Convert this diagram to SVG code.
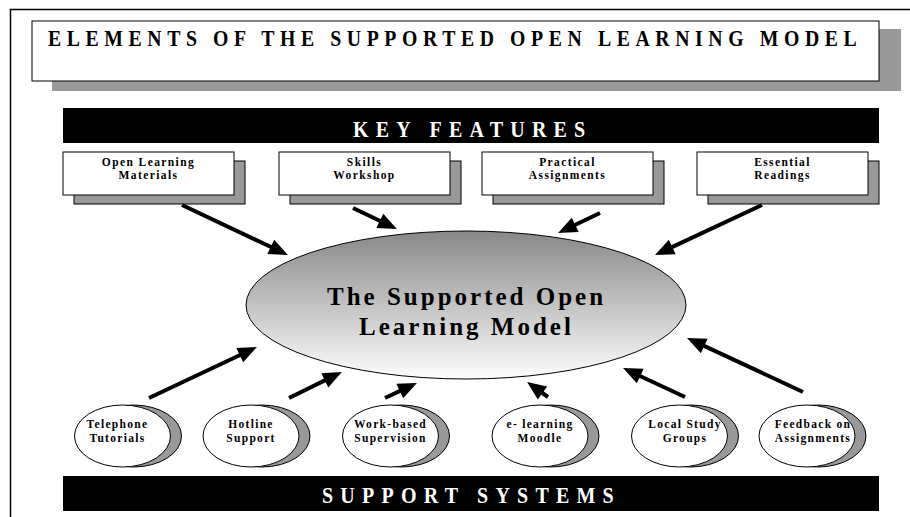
<svg xmlns="http://www.w3.org/2000/svg" width="910" height="517" viewBox="0 0 910 517">
  <style>
    .t { font-family: "Liberation Serif", "Times New Roman", serif; font-weight: bold; fill: #000; }
    .w { fill: #fff; }
    .sh { fill: #999; stroke: #000; stroke-width: 1; }
    .bx { fill: #fff; stroke: #000; stroke-width: 1; }
    .sm { font-size: 11.5px; letter-spacing: 1.4px; text-anchor: middle; }
    .cl { font-size: 11.5px; letter-spacing: 1.3px; text-anchor: middle; }
    .bar { font-size: 23px; letter-spacing: 8.3px; }
    .ar { stroke: #000; stroke-width: 4; fill: none; marker-end: url(#ah); }
  </style>
  <defs>
    <marker id="ah" markerUnits="userSpaceOnUse" markerWidth="19" markerHeight="16" refX="8" refY="8" orient="auto" overflow="visible">
      <path d="M0,0 L19,8 L0,16 Z" fill="#000"/>
    </marker>
    <linearGradient id="eg" x1="0" y1="0" x2="0" y2="1">
      <stop offset="0" stop-color="#888"/>
      <stop offset="1" stop-color="#fdfdfd"/>
    </linearGradient>
  </defs>
  <rect x="0" y="0" width="910" height="517" fill="#fff"/>
  <g id="frame">
    <path d="M10.5,600 L10.5,9.5 L920,9.5" fill="none" stroke="#000" stroke-width="1.5"/>
  </g>
  <g id="title">
    <rect x="52" y="29" width="849" height="62" fill="#999"/>
    <rect x="32" y="21" width="847" height="60" class="bx"/>
    <text transform="translate(48,46) scale(0.86,1)" x="0" y="0" class="t" font-size="23" letter-spacing="6.5">ELEMENTS OF THE SUPPORTED OPEN LEARNING MODEL</text>
  </g>
  <g id="key-features">
    <rect x="63" y="108" width="816" height="35" fill="#000"/>
    <text transform="translate(353,137) scale(0.87,1)" x="0" y="0" class="t w bar">KEY FEATURES</text>
  </g>
  <g id="support-systems">
    <rect x="63" y="476" width="816" height="35" fill="#000"/>
    <text transform="translate(322,503) scale(0.87,1)" x="0" y="0" class="t w bar">SUPPORT SYSTEMS</text>
  </g>
  <g id="feature-open-learning">
    <rect x="74" y="161" width="171" height="43" class="sh"/>
    <rect x="63" y="152" width="171" height="43" class="bx"/>
    <text x="148.5" y="166" class="t sm">Open Learning</text>
    <text x="148.5" y="179" class="t sm">Materials</text>
  </g>
  <g id="feature-skills">
    <rect x="290" y="161" width="171" height="43" class="sh"/>
    <rect x="279" y="152" width="171" height="43" class="bx"/>
    <text x="364.5" y="166" class="t sm">Skills</text>
    <text x="364.5" y="179" class="t sm">Workshop</text>
  </g>
  <g id="feature-practical">
    <rect x="493" y="161" width="171" height="43" class="sh"/>
    <rect x="482" y="152" width="171" height="43" class="bx"/>
    <text x="567.5" y="166" class="t sm">Practical</text>
    <text x="567.5" y="179" class="t sm">Assignments</text>
  </g>
  <g id="feature-readings">
    <rect x="708" y="161" width="171" height="43" class="sh"/>
    <rect x="697" y="152" width="171" height="43" class="bx"/>
    <text x="782.5" y="166" class="t sm">Essential</text>
    <text x="782.5" y="179" class="t sm">Readings</text>
  </g>
  <g id="model">
    <ellipse cx="466" cy="305" rx="220" ry="74" fill="url(#eg)" stroke="#000" stroke-width="1"/>
    <text x="327" y="305" class="t" font-size="25" letter-spacing="3">The Supported Open</text>
    <text x="359" y="335" class="t" font-size="25" letter-spacing="3">Learning Model</text>
  </g>
  <g id="support-telephone">
    <ellipse cx="133.5" cy="436" rx="48" ry="31" class="sh"/>
    <ellipse cx="122.5" cy="436" rx="48" ry="31" class="bx"/>
    <text x="117.5" y="428" class="t cl">Telephone</text>
    <text x="117.5" y="442" class="t cl">Tutorials</text>
  </g>
  <g id="support-hotline">
    <ellipse cx="262" cy="436" rx="48" ry="31" class="sh"/>
    <ellipse cx="251" cy="436" rx="48" ry="31" class="bx"/>
    <text x="251" y="428" class="t cl">Hotline</text>
    <text x="251" y="442" class="t cl">Support</text>
  </g>
  <g id="support-work-based">
    <ellipse cx="401.5" cy="436" rx="48" ry="31" class="sh"/>
    <ellipse cx="390.5" cy="436" rx="48" ry="31" class="bx"/>
    <text x="390.5" y="428" class="t cl">Work-based</text>
    <text x="390.5" y="442" class="t cl">Supervision</text>
  </g>
  <g id="support-elearning">
    <ellipse cx="551" cy="436" rx="48" ry="31" class="sh"/>
    <ellipse cx="540" cy="436" rx="48" ry="31" class="bx"/>
    <text x="540" y="428" class="t cl">e- learning</text>
    <text x="540" y="442" class="t cl">Moodle</text>
  </g>
  <g id="support-local-study">
    <ellipse cx="690.5" cy="436" rx="48" ry="31" class="sh"/>
    <ellipse cx="679.5" cy="436" rx="48" ry="31" class="bx"/>
    <text x="685" y="428" class="t cl">Local Study</text>
    <text x="685" y="442" class="t cl">Groups</text>
  </g>
  <g id="support-feedback">
    <ellipse cx="818" cy="436" rx="48" ry="31" class="sh"/>
    <ellipse cx="807" cy="436" rx="48" ry="31" class="bx"/>
    <text x="813" y="428" class="t cl">Feedback on</text>
    <text x="813" y="442" class="t cl">Assignments</text>
  </g>
  <g id="connectors">
    <line x1="182" y1="205" x2="278" y2="250.3" class="ar"/>
    <line x1="353" y1="208" x2="387" y2="224.3" class="ar"/>
    <line x1="600" y1="213" x2="568" y2="228.3" class="ar"/>
    <line x1="762" y1="205" x2="665" y2="250.4" class="ar"/>
    <line x1="149" y1="398" x2="247" y2="351.7" class="ar"/>
    <line x1="289" y1="398" x2="332" y2="376.9" class="ar"/>
    <line x1="385" y1="398" x2="407" y2="387.6" class="ar"/>
    <line x1="548" y1="397" x2="536" y2="388.4" class="ar"/>
    <line x1="685" y1="397" x2="633" y2="372.7" class="ar"/>
    <line x1="803" y1="392" x2="697" y2="342.6" class="ar"/>
  </g>
</svg>
